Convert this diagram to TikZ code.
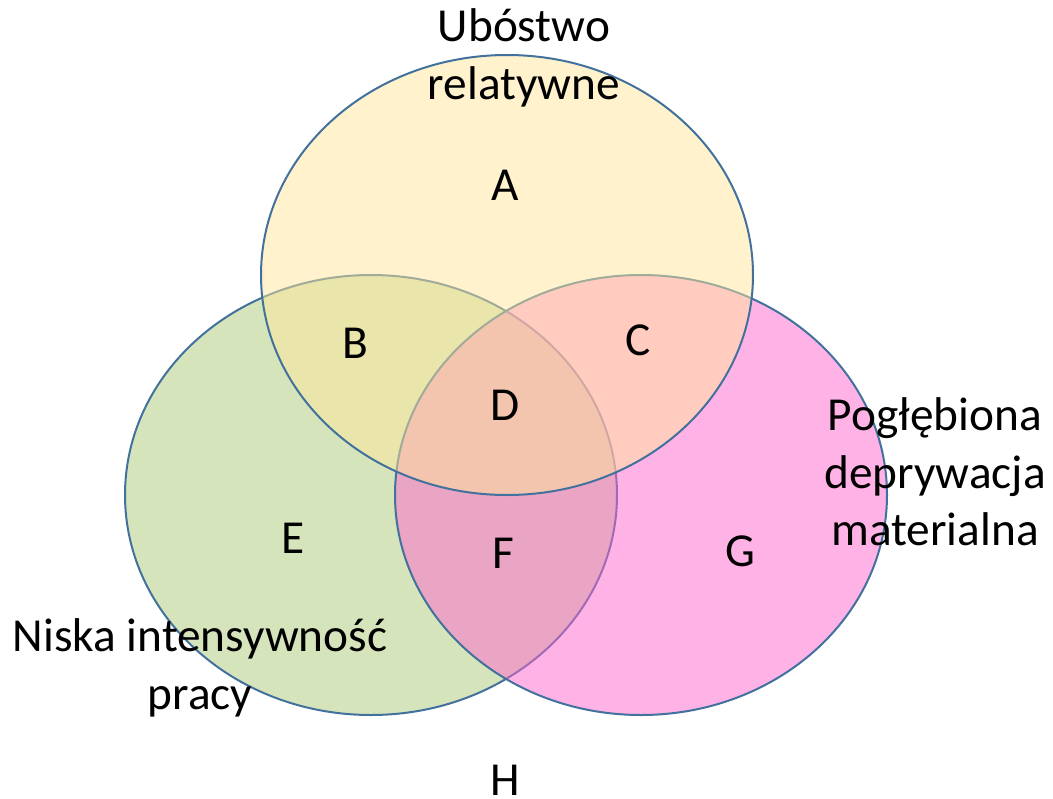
\documentclass[tikz,border=0pt]{standalone}
\usepackage{fontspec}
\setmainfont{Carlito}
\definecolor{ubostwo}{HTML}{FFE699}
\definecolor{praca}{HTML}{D6E4BC}
\definecolor{deprywacja}{HTML}{FF66CC}
\definecolor{obrys}{HTML}{41719C}
\begin{document}
\begin{tikzpicture}[x=0.75pt, y=-0.75pt,
    zbior/.style={draw=obrys, line width=1.5pt},
    etykieta/.style={font=\fontsize{35.5}{43}\selectfont, align=center, inner sep=0pt}]
        \useasboundingbox (0, 0) rectangle (1053, 799);

        % Sets
        \draw[zbior, fill=praca] (371, 495) ellipse [x radius=246, y radius=220];
        \draw[zbior, fill=deprywacja, fill opacity=0.5] (641, 495) ellipse [x radius=246, y radius=220];
        \draw[zbior, fill=ubostwo, fill opacity=0.5] (507, 275) ellipse [x radius=246, y radius=220];

        % Set names
        \node[etykieta] (ubostwo) at (524, 58) {Ubóstwo\\relatywne};
        \node[etykieta] (deprywacja) at (935, 472) {Pogłębiona\\deprywacja\\materialna};
        \node[etykieta] (praca) at (200, 668) {Niska intensywność\\pracy};

        % Regions
        \node[etykieta] (A) at (505, 185) {A};
        \node[etykieta] (B) at (355, 343) {B};
        \node[etykieta] (C) at (638, 340) {C};
        \node[etykieta] (D) at (505, 405) {D};
        \node[etykieta] (E) at (293, 538) {E};
        \node[etykieta] (F) at (503, 553) {F};
        \node[etykieta] (G) at (740, 551) {G};
        \node[etykieta] (H) at (505, 780) {H};
\end{tikzpicture}
\end{document}
